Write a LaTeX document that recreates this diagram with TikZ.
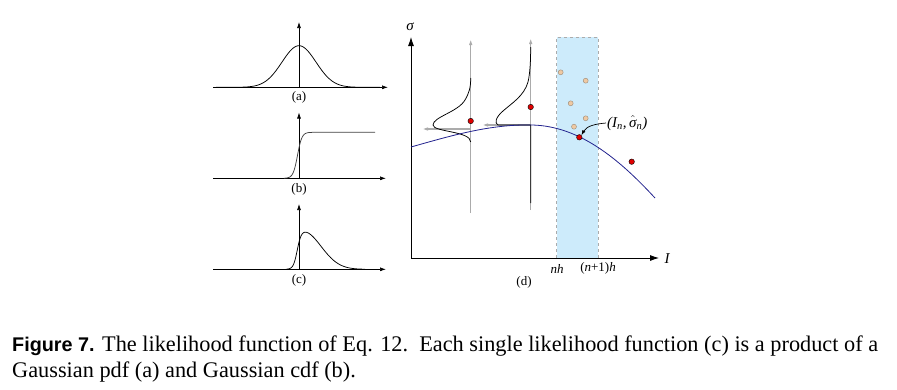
\documentclass[tikz,border=0pt]{standalone}
\usepackage{fontspec}
\setmainfont{Liberation Serif}
\newfontfamily\capsans{Liberation Sans}
\usetikzlibrary{arrows.meta}
\definecolor{bandblue}{HTML}{CDEBFB}
\definecolor{curveblue}{HTML}{22228E}
\definecolor{guide}{HTML}{ABABAB}
\definecolor{tanfill}{HTML}{EFC9A3}
\definecolor{tanedge}{HTML}{9A8A78}
\definecolor{dotred}{HTML}{E00000}
\begin{document}
\begin{tikzpicture}[x=1pt,y=-1pt,
  smallaxis/.style={line width=0.7pt,-{Latex[length=6pt,width=4pt]}},
  daxis/.style={line width=0.8pt,-{Latex[length=9pt,width=6pt]}},
  guidearrow/.style={guide,line width=1.3pt,-{Latex[length=6pt,width=3.5pt]}},
  fcurve/.style={line width=0.75pt},
  redpt/.style={circle,fill=dotred,draw=black,line width=0.4pt,inner sep=0pt,minimum size=5.5pt},
  tanpt/.style={circle,fill=tanfill,draw=tanedge,line width=0.4pt,inner sep=0pt,minimum size=5pt},
  plbl/.style={font=\fontsize{13}{15}\selectfont,inner sep=0pt},
  axlbl/.style={font=\fontsize{15}{17}\selectfont\itshape,inner sep=0pt},
  ticklbl/.style={font=\fontsize{13}{15}\selectfont,inner sep=0pt},
  captext/.style={font=\fontsize{22.3}{26}\selectfont,inner sep=0pt,anchor=base west}
]
\useasboundingbox (0,0) rectangle (897,389);

% ---------- panel (a)
\coordinate (a0) at (213,87.3);
\coordinate (a1) at (388,87.3);
\coordinate (av0) at (299,87.3);
\coordinate (av1) at (299,22);
\draw[smallaxis] (a0) -- (a1);
\draw[smallaxis] (av0) -- (av1);
\draw[fcurve] plot[domain=216:380,samples=120] (\x,{87.3-41.6*exp(max(-((\x-299)*(\x-299))/578,-9))});
\node[plbl] (la) at (299,97.5) {(a)};

% ---------- panel (b)
\coordinate (b0) at (213,178.3);
\coordinate (b1) at (386,178.3);
\coordinate (bv0) at (299,178.3);
\coordinate (bv1) at (299,112.5);
\draw[smallaxis] (b0) -- (b1);
\draw[smallaxis] (bv0) -- (bv1);
\draw[fcurve,draw=black!75] plot[domain=284:318,samples=60] (\x,{178.3-46/(1+exp(-(\x-297.5)/2.2))}) -- (375,132.3);
\node[plbl] (lb) at (299,189) {(b)};

% ---------- panel (c)
\coordinate (c0) at (213,269.3);
\coordinate (c1) at (386,269.3);
\coordinate (cv0) at (299,269.3);
\coordinate (cv1) at (299,204);
\draw[smallaxis] (c0) -- (c1);
\draw[smallaxis] (cv0) -- (cv1);
\draw[fcurve] plot[domain=286:365,samples=120] (\x,{269.3-38*exp(-((\x-303)*(\x-303))/648)/(1+exp(max(-(\x-297)/2,-9)))});
\node[plbl] (lc) at (299,280.5) {(c)};

% ---------- panel (d)
\fill[bandblue] (556.7,37.3) rectangle (598.3,258);
\draw[guide,dashed,line width=0.7pt] (556.7,258) -- (556.7,37.3) -- (598.3,37.3) -- (598.3,258);

\coordinate (o) at (411,258);
\coordinate (ytop) at (411,37);
\coordinate (xend) at (659,258);
\draw[daxis] (o) -- (ytop);
\draw[daxis] (o) -- (xend);
\node[axlbl] (sig) at (410,27) {σ};
\node[axlbl] (Ilbl) at (667,258.5) {I};
\node[ticklbl,font=\fontsize{13}{15}\selectfont\itshape] (nh) at (557,268.5) {nh};
\node[ticklbl] (n1h) at (598,268.5) {(\textit{n}+1)\textit{h}};
\node[plbl] (ld) at (524,282) {(d)};

% guides
\coordinate (g1b) at (470.7,213);
\coordinate (g1t) at (470.7,39);
\coordinate (g2b) at (530.7,210);
\coordinate (g2t) at (530.7,38);
\coordinate (h1s) at (470.7,129);
\coordinate (h1e) at (422,129);
\coordinate (h2s) at (530.7,125);
\coordinate (h2e) at (482,125);
\draw[guidearrow] (g1b) -- (g1t);
\draw[guidearrow] (g2b) -- (g2t);
\draw[guidearrow] (h1s) -- (h1e);
\draw[guidearrow] (h2s) -- (h2e);

% likelihood curves
\draw[fcurve] (470.7,142) .. controls (470.7,131) and (433,132) .. (433,125)
  .. controls (433,117) and (458,112) .. (465,100)
  .. controls (469,93) and (470.7,88) .. (470.7,78);
\draw[fcurve] (530.7,203) -- (530.7,125) -- (498,125)
  .. controls (494,123) and (496,117) .. (503,111)
  .. controls (512,103) and (524,96) .. (528,82)
  .. controls (530,74) and (530.7,60) .. (530.7,47);

% fitted curve
\draw[curveblue,line width=0.8pt] (411,147) .. controls (450,136) and (490,124) .. (532,125)
  .. controls (580,126) and (620,160) .. (655,198);

% data points
\node[redpt] (r1) at (470.7,121) {};
\node[redpt] (r2) at (530.7,107) {};
\node[tanpt] (t1) at (560.7,72.3) {};
\node[tanpt] (t2) at (585.7,80.7) {};
\node[tanpt] (t3) at (570.7,103.3) {};
\node[tanpt] (t4) at (585.7,118.3) {};
\node[tanpt] (t5) at (574,126.7) {};
\node[redpt] (pt) at (579.3,137.3) {};
\node[redpt] (r3) at (631.7,161.7) {};

\node[font=\fontsize{15}{17}\selectfont\itshape,inner sep=1pt,anchor=west] (est) at (606,123) {(I\textsubscript{n},\,$\hat{\mbox{\itshape σ}}$\textsubscript{n})};
\draw[line width=0.7pt,-{Latex[length=5pt,width=3.5pt]}] (est.west) to[out=185,in=60] (pt.north east);

% ---------- caption
\node[captext] (cap1) at (12,351) {{\capsans\bfseries\fontsize{19.8}{26}\selectfont Figure 7.} The likelihood function of Eq. 12.\ \ Each single likelihood function (c) is a product of a};
\node[captext] (cap2) at (12,377) {Gaussian pdf (a) and Gaussian cdf (b).};
\end{tikzpicture}
\end{document}
